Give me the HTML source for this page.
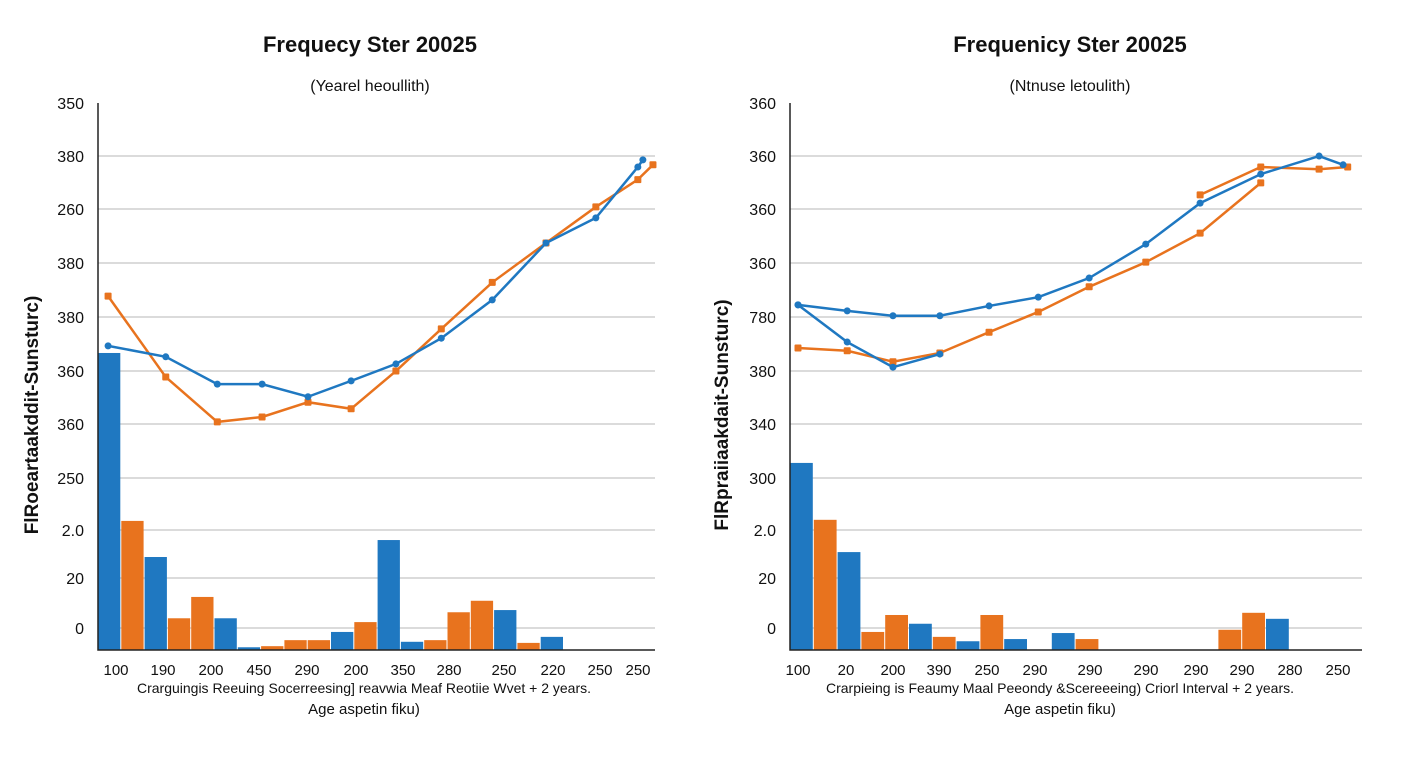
<!DOCTYPE html>
<html><head><meta charset="utf-8"><style>
body{margin:0;background:#fff;width:1408px;height:768px;overflow:hidden;font-family:"Liberation Sans",sans-serif}
svg{display:block}
</style></head><body>
<svg id="c" width="1408" height="768"></svg>
<script>
const leftBarVals=[54.3,23.6,17.0,5.8,9.7,5.8,0.5,0.7,1.8,1.8,3.3,5.1,20.1,1.5,1.8,6.9,9.0,7.3,1.3,2.4];
const leftBarCols=["b","o","b","o","o","b","b","o","o","o","b","o","b","b","o","o","o","b","o","b"];
const leftBlueAge=[1.8,12.1,21.3,29.3,37.5,45.2,53.2,61.3,70.4,80,88.9,96.4];
const leftBlueVal=[55.6,53.6,48.6,48.6,46.3,49.2,52.3,57.0,64.0,74.4,79.0,88.3];
const leftOrgAge=[1.8,12.1,21.3,29.3,37.5,45.2,53.2,61.3,70.4,80,88.9,96.4];
const leftOrgVal=[64.7,49.9,41.7,42.6,45.3,44.1,51.0,58.7,67.2,74.4,81.0,86.0];
const leftYTicks=["350","380","260","380","380","360","360","250","2.0","20","0"];
const leftXTicks=["100","190","200","450","290","200","350","280","250","220","250","250"];
const rightBarVals=[34.2,23.8,17.9,3.3,6.4,4.8,2.4,1.6,6.4,2.0,0,3.1,2.0,0,0,0,0,0,3.7,6.8,5.7];
const rightBarCols=["b","o","b","o","o","b","o","b","o","b","b","b","o","b","b","b","b","b","o","o","b"];
const rightBlueAge=[1.4,10.0,18.0,26.2,34.8,43.4,52.3,62.2,71.7,82.3,92.5,96.7];
const rightBlueVal=[63.1,62.0,61.1,61.1,62.9,64.5,68.0,74.2,81.7,87.0,90.3,88.7];
const rightBlue2Age=[1.4,10.0,18.0,26.2];
const rightBlue2Val=[63.1,56.3,51.7,54.1];
const rightOrgAge=[1.4,10.0,18.0,26.2,34.8,43.4,52.3,62.2,71.7,82.3];
const rightOrgVal=[55.2,54.7,52.7,54.3,58.1,61.8,66.4,70.9,76.2,85.4];
const rightOrg2Age=[71.7,82.3,92.5,97.5];
const rightOrg2Val=[83.2,88.3,87.9,88.3];
const rightYTicks=["360","360","360","360","780","380","340","300","2.0","20","0"];
const rightXTicks=["100","20","200","390","250","290","290","290","290","290","280","250"];

const NS="http://www.w3.org/2000/svg";
const svg=document.getElementById('c');
const BL="#1f78c1",OR="#e8731e";
function mk(tag,at,parent){const e=document.createElementNS(NS,tag);for(const k in at)e.setAttribute(k,at[k]);(parent||svg).appendChild(e);return e;}
const gridYs=[103,156,209,263,317,371,424,478,530,578,628];

function panel(o){
  const g=mk('g',{});
  
  
  const yS=v=>650-v*5.47;
  const xS=a=>o.x0+a*o.xk;
  let t=mk('text',{x:o.cx,y:52,'text-anchor':'middle','font-size':22,'font-weight':'bold',fill:'#111'},g);t.textContent=o.title;
  
  t=mk('text',{x:o.cx,y:91,'text-anchor':'middle','font-size':16,fill:'#111'},g);t.textContent=o.sub;
  
  gridYs.forEach((y,i)=>{
    if(i>0){const l=mk('line',{x1:o.x0,x2:o.xEnd,y1:y,y2:y,stroke:'#cfcfcf','stroke-width':1.5},g);
      }
    const tx=mk('text',{x:o.x0-14,y:y+6,'text-anchor':'end','font-size':16,fill:'#111'},g);tx.textContent=o.yt[i];
    
  });
  o.bars.forEach((v,i)=>{
    if(v<=0)return;
    const r=mk('rect',{x:o.x0+i*o.bw,y:yS(v),width:o.bw-1,height:650-yS(v),fill:o.cols[i]=="b"?BL:OR},g);
    
  });
  o.lines.forEach(L=>{
    const pts=L.a.map((a,i)=>xS(a)+','+yS(L.v[i])).join(' ');
    const p=mk('polyline',{points:pts,fill:'none',stroke:L.c,'stroke-width':2.5},g);
    
    L.a.forEach((a,i)=>{
      const m=mk('rect',{x:xS(a)-3.5,y:yS(L.v[i])-3.5,width:7,height:7,rx:L.c==BL?3.5:1,fill:L.c},g);
      
    });
  });
  const ax=mk('path',{d:`M${o.x0} 103V650H${o.xEnd}`,fill:'none',stroke:'#222','stroke-width':1.5},g);
  
  o.xt.forEach((s,i)=>{
    const tx=mk('text',{x:o.xtPos[i],y:675,'text-anchor':'middle','font-size':15,fill:'#111'},g);tx.textContent=s;
    
  });
  t=mk('text',{x:o.cap,y:693,'text-anchor':'middle','font-size':14,fill:'#111'},g);t.textContent=o.caption;
  
  t=mk('text',{x:o.cap,y:714,'text-anchor':'middle','font-size':15,fill:'#111'},g);t.textContent="Age aspetin fiku)";
  
  t=mk('text',{x:0,y:0,'text-anchor':'middle','font-size':19,'font-weight':'bold',fill:'#111',transform:`translate(${o.yTx},415) rotate(-90)`},g);t.textContent=o.ytitle;
  
}
panel({name:'left-panel',cx:370,title:"Frequecy Ster 20025",sub:"(Yearel heoullith)",x0:98,xEnd:655,xk:5.6,bw:23.3,
 bars:leftBarVals,cols:leftBarCols,yt:leftYTicks,xt:leftXTicks,
 xtPos:[116,163,211,259,307,356,403,449,504,553,600,638],
 lines:[{a:leftOrgAge.concat([99.1]),v:leftOrgVal.concat([88.7]),c:OR,n:'orange-line'},{a:leftBlueAge.concat([97.3]),v:leftBlueVal.concat([89.6]),c:BL,n:'blue-line'}],
 cap:364,caption:"Crarguingis Reeuing Socerreesing] reavwia Meaf Reotiie Wvet + 2 years.",yTx:38,ytitle:"FlRoeartaakddit-Sunsturc)"});
panel({name:'right-panel',cx:1070,title:"Frequenicy Ster 20025",sub:"(Ntnuse letoulith)",x0:790,xEnd:1362,xk:5.72,bw:23.8,
 bars:rightBarVals,cols:rightBarCols,yt:rightYTicks,xt:rightXTicks,
 xtPos:[798,846,893,939,987,1035,1090,1146,1196,1242,1290,1338],
 lines:[{a:rightOrgAge,v:rightOrgVal,c:OR,n:'orange-line'},{a:rightOrg2Age,v:rightOrg2Val,c:OR,n:'orange-line-upper'},{a:rightBlueAge,v:rightBlueVal,c:BL,n:'blue-line'},{a:rightBlue2Age,v:rightBlue2Val,c:BL,n:'blue-line-dip'}],
 cap:1060,caption:"Crarpieing is Feaumy Maal Peeondy &Scereeeing) Criorl Interval + 2 years.",yTx:728,ytitle:"FlRpraiiaakdait-Sunsturc)"});
</script>
</body></html>
